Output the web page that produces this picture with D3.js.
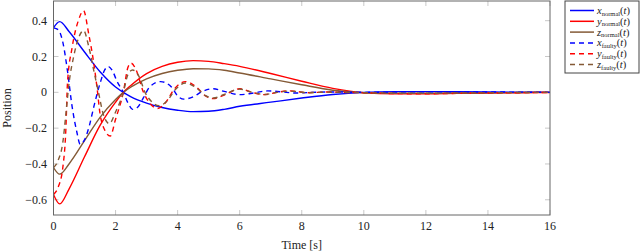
<!DOCTYPE html>
<html>
<head>
<meta charset="utf-8">
<script src="https://cdn.jsdelivr.net/npm/d3@7"></script>
<style>
  body { margin: 0; background: #fff; }
</style>
</head>
<body>
<div id="chart"></div>
<script>
// time samples for the normal (solid) runs
var tNormal = [0, 0.2, 0.5, 1, 1.5, 2, 2.25, 2.5, 3, 3.5, 4, 4.5, 5, 5.5, 6, 7, 8, 9, 10, 11, 12, 13, 14, 15, 16];
var xNormal = [0.36, 0.395, 0.34, 0.225, 0.115, 0.03, 0, -0.025, -0.06, -0.085, -0.1, -0.108, -0.106, -0.095, -0.078, -0.055, -0.032, -0.012, 0, 0.004, 0.004, 0.003, 0.002, 0.001, 0];
var yNormal = [-0.57, -0.623, -0.54, -0.36, -0.185, -0.055, 0, 0.04, 0.105, 0.145, 0.168, 0.177, 0.173, 0.16, 0.145, 0.105, 0.062, 0.022, -0.002, -0.008, -0.008, -0.006, -0.004, -0.002, -0.001];
var zNormal = [-0.42, -0.457, -0.4, -0.27, -0.14, -0.04, 0, 0.03, 0.075, 0.105, 0.123, 0.132, 0.131, 0.123, 0.108, 0.075, 0.042, 0.012, -0.002, -0.005, -0.005, -0.004, -0.003, -0.001, 0];

// faulty (dashed) runs, each with its own samples
var tXFaulty = [0, 0.15, 0.3, 0.45, 0.6, 0.75, 0.86, 1.0, 1.15, 1.3, 1.5, 1.65, 1.77, 1.9, 2.05, 2.25, 2.4, 2.55, 2.7, 2.9, 3.1, 3.45, 3.8, 4.0, 4.2, 4.5, 4.8, 5.15, 5.5, 6.0, 6.5, 6.9, 7.5, 7.8, 8.5, 9, 10, 12, 14, 16];
var xFaulty  = [0.36, 0.35, 0.28, 0.12, -0.08, -0.22, -0.29, -0.265, -0.19, -0.08, 0.05, 0.125, 0.144, 0.12, 0.06, 0, -0.06, -0.095, -0.085, -0.03, 0.03, 0.06, 0.03, -0.02, -0.038, -0.025, 0.005, 0.02, 0.005, -0.013, -0.002, 0.008, 0, -0.004, 0.001, 0.002, 0, 0.003, 0.002, 0];

var tYFaulty = [0, 0.15, 0.3, 0.4, 0.45, 0.6, 0.8, 0.97, 1.13, 1.3, 1.4, 1.5, 1.65, 1.83, 2.0, 2.25, 2.4, 2.5, 2.65, 2.9, 3.1, 3.35, 3.6, 3.9, 4.25, 4.6, 4.9, 5.15, 5.5, 6.0, 6.4, 6.8, 7.2, 7.6, 8.2, 8.8, 9.5, 10, 11, 12, 13, 14, 15, 16];
var yFaulty  = [-0.57, -0.53, -0.42, -0.2, 0.05, 0.25, 0.4, 0.456, 0.33, 0.16, 0.03, -0.12, -0.21, -0.244, -0.15, 0, 0.14, 0.163, 0.13, 0, -0.06, -0.09, -0.06, 0.02, 0.06, 0.03, -0.02, -0.035, -0.015, 0.02, 0, -0.013, 0, 0.008, -0.002, 0.002, -0.001, -0.002, -0.007, -0.008, -0.006, -0.004, -0.002, -0.001];

var tZFaulty = [0, 0.15, 0.3, 0.4, 0.5, 0.65, 0.8, 0.97, 1.13, 1.3, 1.45, 1.6, 1.8, 2.0, 2.25, 2.4, 2.55, 2.75, 2.95, 3.15, 3.4, 3.65, 3.95, 4.25, 4.6, 4.9, 5.15, 5.5, 6.0, 6.4, 6.8, 7.2, 7.6, 8.2, 8.8, 9.5, 10, 11, 12, 13, 14, 15, 16];
var zFaulty  = [-0.42, -0.38, -0.28, -0.12, 0.05, 0.2, 0.3, 0.345, 0.26, 0.12, 0, -0.12, -0.175, -0.11, 0, 0.1, 0.125, 0.09, 0, -0.05, -0.075, -0.05, 0.02, 0.052, 0.025, -0.018, -0.032, -0.012, 0.018, 0, -0.012, 0, 0.007, -0.002, 0.001, -0.001, -0.002, -0.005, -0.005, -0.004, -0.003, -0.001, 0];

var xTicks = [0, 2, 4, 6, 8, 10, 12, 14, 16];
var yTicks = [-0.6, -0.4, -0.2, 0, 0.2, 0.4];

var BROWN = "#845a36";

var series = [
  {name: "x", sub: "normal", t: tNormal, v: xNormal, color: "#0000ff", dash: null},
  {name: "y", sub: "normal", t: tNormal, v: yNormal, color: "#ff0000", dash: null},
  {name: "z", sub: "normal", t: tNormal, v: zNormal, color: BROWN, dash: null},
  {name: "x", sub: "faulty", t: tXFaulty, v: xFaulty, color: "#0000ff", dash: "5,4"},
  {name: "y", sub: "faulty", t: tYFaulty, v: yFaulty, color: "#ff0000", dash: "5,4"},
  {name: "z", sub: "faulty", t: tZFaulty, v: zFaulty, color: BROWN, dash: "5,4"}
];

var width = 640, height = 252;
// plot box (note: "top" is taken by window.top, so prefixed names)
var pLeft = 53.5, pRight = 550, pTop = 1, pBottom = 215;
var FONT = "'Liberation Serif', 'Times New Roman', serif";

var svg = d3.select("#chart").append("svg")
  .attr("width", width)
  .attr("height", height)
  .attr("font-family", FONT);

var x = d3.scaleLinear().domain([0, 16]).range([pLeft, pRight]);
var y = d3.scaleLinear().domain([-0.685, 0.51]).range([pBottom, pTop]);

// ticks inside the frame, on all four sides
var tickColor = "#c8c8c8", tickLen = 5;
var grid = svg.append("g");
xTicks.forEach(function (d) {
  grid.append("line").attr("x1", x(d)).attr("x2", x(d)).attr("y1", pBottom).attr("y2", pBottom - tickLen)
    .attr("stroke", tickColor);
  grid.append("line").attr("x1", x(d)).attr("x2", x(d)).attr("y1", pTop).attr("y2", pTop + tickLen)
    .attr("stroke", tickColor);
});
yTicks.forEach(function (d) {
  grid.append("line").attr("x1", pLeft).attr("x2", pLeft + tickLen).attr("y1", y(d)).attr("y2", y(d))
    .attr("stroke", tickColor);
  grid.append("line").attr("x1", pRight).attr("x2", pRight - tickLen).attr("y1", y(d)).attr("y2", y(d))
    .attr("stroke", tickColor);
});

// curves, clipped to the plot area
svg.append("clipPath").attr("id", "clip").append("rect")
  .attr("x", pLeft).attr("y", pTop).attr("width", pRight - pLeft).attr("height", pBottom - pTop);

var line = d3.line()
  .x(function (d) { return x(d[0]); })
  .y(function (d) { return y(d[1]); })
  .curve(d3.curveMonotoneX);

svg.append("g").attr("clip-path", "url(#clip)")
  .selectAll("path")
  .data(series)
  .enter().append("path")
  .attr("d", function (s) { return line(d3.zip(s.t, s.v)); })
  .attr("fill", "none")
  .attr("stroke", function (s) { return s.color; })
  .attr("stroke-width", 1.4)
  .attr("stroke-dasharray", function (s) { return s.dash; });

// frame
svg.append("rect")
  .attr("x", pLeft).attr("y", pTop).attr("width", pRight - pLeft).attr("height", pBottom - pTop)
  .attr("fill", "none").attr("stroke", "#666").attr("stroke-width", 1);

// tick labels
svg.append("g").selectAll("text").data(xTicks).enter().append("text")
  .attr("x", function (d) { return x(d); })
  .attr("y", 230)
  .attr("text-anchor", "middle")
  .attr("font-size", 12)
  .attr("fill", "#222")
  .text(function (d) { return d; });

svg.append("g").selectAll("text").data(yTicks).enter().append("text")
  .attr("x", 47)
  .attr("y", function (d) { return y(d) + 4; })
  .attr("text-anchor", "end")
  .attr("font-size", 12)
  .attr("fill", "#222")
  .text(function (d) { return d === 0 ? "0" : d3.format(".1f")(d).replace("-", "\u2212"); });

// axis titles
svg.append("text")
  .attr("x", (pLeft + pRight) / 2)
  .attr("y", 249)
  .attr("text-anchor", "middle")
  .attr("font-size", 12)
  .attr("fill", "#222")
  .text("Time [s]");

svg.append("text")
  .attr("transform", "translate(11," + ((pTop + pBottom) / 2) + ") rotate(-90)")
  .attr("text-anchor", "middle")
  .attr("font-size", 12)
  .attr("fill", "#222")
  .text("Position");

// legend
var lg = svg.append("g").attr("transform", "translate(565,1)");
lg.append("rect").attr("width", 74).attr("height", 72)
  .attr("fill", "#fff").attr("stroke", "#444").attr("stroke-width", 1);

var item = lg.selectAll(".item").data(series).enter().append("g")
  .attr("class", "item")
  .attr("transform", function (d, i) { return "translate(0," + (9.5 + i * 10.8) + ")"; });

item.append("line")
  .attr("x1", 5).attr("x2", 29)
  .attr("stroke", function (s) { return s.color; })
  .attr("stroke-width", 1.5)
  .attr("stroke-dasharray", function (s) { return s.dash; });

var label = item.append("text")
  .attr("x", 32)
  .attr("y", 3.5)
  .attr("font-size", 10.5)
  .attr("fill", "#222");
label.append("tspan").attr("font-style", "italic").text(function (s) { return s.name; });
label.append("tspan").attr("font-size", 6.5).attr("dy", 1.5).text(function (s) { return s.sub; });
label.append("tspan").attr("dy", -1.5).text("(");
label.append("tspan").attr("font-style", "italic").text("t");
label.append("tspan").text(")");
</script>
</body>
</html>
